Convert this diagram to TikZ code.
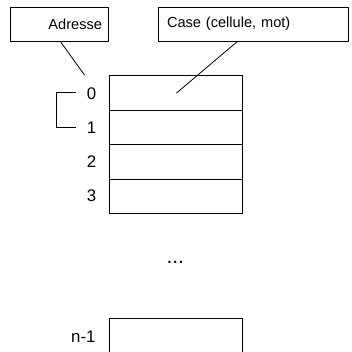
\documentclass[tikz,border=0pt]{standalone}
\usepackage{fontspec}
\setmainfont{Liberation Sans}
\begin{document}
\begin{tikzpicture}[x=1pt,y=-1pt,
  every node/.style={font=\fontsize{14.6}{17}\selectfont},
  thin line/.style={line width=0.8pt},
  cellbox/.style={draw, line width=1pt, minimum width=133pt, minimum height=34.5pt, inner sep=0pt},
  labelbox/.style={draw, line width=0.8pt, minimum height=34pt, inner ysep=0pt},
  idx/.style={inner sep=0pt, anchor=center, font=\fontsize{16.8}{19}\selectfont}]
\useasboundingbox (0,0) rectangle (351,352);
\clip (0,0) rectangle (351,352);
\node[labelbox, text width=86pt, inner xsep=6pt, align=right] (adr) at (59,24) {Adresse};
\node[labelbox, text width=172pt, inner xsep=9pt, align=left] (case) at (253,24) {Case (cellule, mot)};
\node[cellbox] (c0) at (175.5,93) {};
\node[cellbox] (c1) at (175.5,127.5) {};
\node[cellbox] (c2) at (175.5,162) {};
\node[cellbox] (c3) at (175.5,196.5) {};
\node[cellbox, minimum height=44pt] (cn) at (175.5,340) {};
\node[idx] (l0) at (91.5,93.3) {0};
\node[idx] (l1) at (91.5,127.5) {1};
\node[idx] (l2) at (91.5,161.2) {2};
\node[idx] (l3) at (91.5,196) {3};
\node[idx] (ln) at (83.3,337) {n-1};
\node[idx, font=\fontsize{21}{24}\selectfont] (dots) at (175.3,262) {...};
\coordinate (adrend) at (84.5,75);
\coordinate (caseend) at (176.5,93);
\draw[thin line] (60,41) -- (adrend);
\draw[thin line] (238,41) -- (caseend);
\coordinate (bt) at (76,92.8);
\coordinate (bb) at (76,127.7);
\draw[thin line] (bt) -- (56,92.8) -- (56,127.7) -- (bb);
\end{tikzpicture}
\end{document}
